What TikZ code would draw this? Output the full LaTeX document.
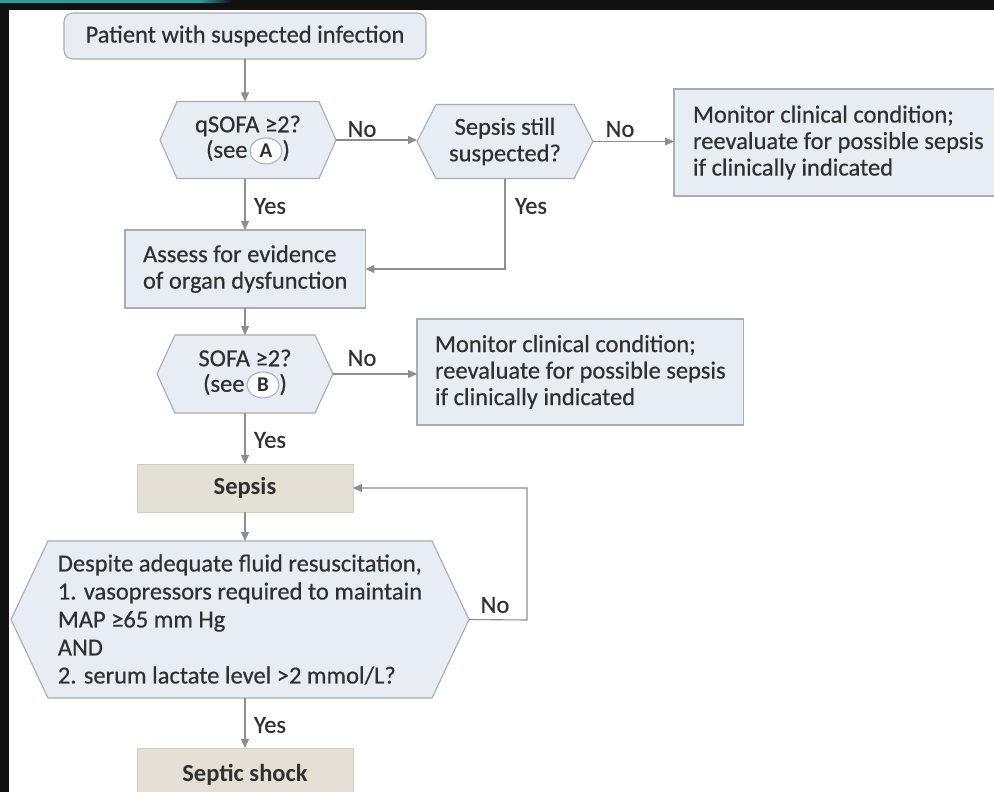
\documentclass[tikz,border=0pt]{standalone}
\usepackage{fontspec}
\setmainfont{Carlito}
\newfontfamily\txtfont{Carlito}[FakeBold=0.45]
\newfontfamily\boldfont{Carlito Bold}
\usetikzlibrary{arrows.meta,backgrounds,shapes.geometric}
\definecolor{boxfill}{HTML}{E7EDF2}
\definecolor{boxline}{HTML}{A7ADB2}
\definecolor{tanfill}{HTML}{E5E0D6}
\definecolor{tanline}{HTML}{D4CEC2}
\definecolor{txt}{HTML}{303030}
\definecolor{arr}{HTML}{8E8E8E}
\definecolor{tealbar}{HTML}{2E9A9A}
\definecolor{frame}{HTML}{111111}
\newcommand{\circlet}[1]{\hspace{2pt}\tikz[baseline=(cl.base)]\node[ellipse,draw=boxline,fill=white,line width=1pt,inner sep=0pt,minimum width=32pt,minimum height=26pt,font=\fontsize{21}{21}\selectfont\boldfont] (cl) {#1};}
\newcommand{\hexshape}[2]{\draw[hexline] (#1.west) -- ([xshift=#2]#1.north west) -- ([xshift=-#2]#1.north east) -- (#1.east) -- ([xshift=-#2]#1.south east) -- ([xshift=#2]#1.south west) -- cycle;}
\tikzset{
  base/.style={outer sep=0pt, text=txt, font=\fontsize{24.5}{26.5}\selectfont\txtfont},
  box/.style={base, draw=boxline, line width=1.1pt, fill=boxfill, align=left},
  tanbox/.style={base, draw=tanline, line width=0.9pt, fill=tanfill, font=\fontsize{24.5}{26.5}\selectfont\boldfont},
  hexnode/.style={base, align=center, inner sep=0pt},
  hexline/.style={draw=boxline, line width=1.1pt, fill=boxfill, line join=miter},
  conn/.style={draw=arr, line width=1.1pt, -{Triangle[length=9pt,width=8pt]}},
  lbl/.style={base, inner sep=0pt},
}
\begin{document}
\begin{tikzpicture}[x=1pt,y=-1pt]
\useasboundingbox (0,0) rectangle (994,792);
\clip (0,0) rectangle (994,792);

% nodes
\node[box, rounded corners=9pt, minimum width=362pt, minimum height=46pt, align=center] (patient) at (245,36) {Patient with suspected infection};
\node[hexnode, minimum width=176pt, minimum height=77pt] (qsofa) at (248,140) {qSOFA ≥2?\\[-1pt](see\circlet{A})};
\node[hexnode, minimum width=176pt, minimum height=74pt] (still) at (505,141.5) {Sepsis still\\suspected?};
\node[box, anchor=west, minimum height=107pt, inner xsep=19pt] (mon1) at (674,142.5) {Monitor clinical condition;\\reevaluate for possible sepsis\\if clinically indicated};
\node[box, anchor=west, minimum height=78pt, inner xsep=18pt] (assess) at (125,269) {Assess for evidence\\of organ dysfunction};
\node[hexnode, minimum width=176pt, minimum height=78pt] (sofa) at (245,374) {SOFA ≥2?\\[-1pt](see\circlet{B})};
\node[box, anchor=west, minimum height=106pt, inner xsep=18pt] (mon2) at (417,372) {Monitor clinical condition;\\reevaluate for possible sepsis\\if clinically indicated};
\node[tanbox, minimum width=216pt, minimum height=48pt] (sepsis) at (245,488) {Sepsis};
\node[hexnode, minimum width=458pt, minimum height=157pt, align=left, font=\fontsize{24.5}{28}\selectfont\txtfont] (shock) at (240,619.5) {Despite adequate fluid resuscitation,\\1. vasopressors required to maintain\\MAP ≥65 mm Hg\\AND\\2. serum lactate level >2 mmol/L?};
\node[tanbox, minimum width=216pt, minimum height=54pt] (septic) at (245,775) {Septic shock};
\coordinate (loop) at (527,620);

\begin{scope}[on background layer]
  \fill[white] (0,0) rectangle (994,792);
  \hexshape{qsofa}{17pt}
  \hexshape{still}{19pt}
  \hexshape{sofa}{18pt}
  \hexshape{shock}{37pt}
\end{scope}

% labels
\node[lbl] (y1) at (270,206) {Yes};
\node[lbl] (n1) at (362,129) {No};
\node[lbl] (n2) at (620,129) {No};
\node[lbl] (y2) at (531,206) {Yes};
\node[lbl] (n3) at (362,358) {No};
\node[lbl] (y3) at (270,440) {Yes};
\node[lbl] (n4) at (495,605) {No};
\node[lbl] (y4) at (270,725) {Yes};

% connectors
\draw[conn] (patient.south) -- (patient.south |- qsofa.north);
\draw[conn] (patient.south |- qsofa.south) -- (patient.south |- assess.north);
\draw[conn] (qsofa.east) -- (qsofa.east -| still.west);
\draw[conn] (still.east) -- (still.east -| mon1.west);
\draw[conn] (still.south) |- (assess.east);
\draw[conn] (sofa.north |- assess.south) -- (sofa.north);
\draw[conn] (sofa.east) -- (sofa.east -| mon2.west);
\draw[conn] (sofa.south) -- (sepsis.north);
\draw[conn] (sepsis.south) -- (sepsis.south |- shock.north);
\draw[conn] (shock.east) -- (loop) |- (sepsis.east);
\draw[conn] (sepsis.south |- shock.south) -- (septic.north);

% frame
\fill[frame] (0,0) rectangle (994,10);
\fill[frame] (0,0) rectangle (9,792);
\fill[tealbar] (0,0) rectangle (200,3);
\shade[left color=tealbar, right color=frame] (200,0) rectangle (232,3);
\end{tikzpicture}
\end{document}
